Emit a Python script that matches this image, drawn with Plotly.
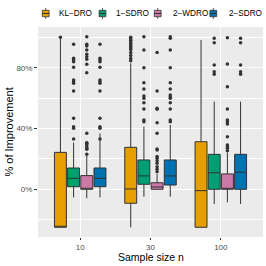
import plotly.graph_objects as go

groups = ["10", "30", "100"]
methods = ["KL−DRO", "1−SDRO", "2−WDRO", "2−SDRO"]
colors = ["#E69F00", "#009E73", "#CC79A7", "#0072B2"]

# box statistics per method, one value per sample size group (in %)
q1 = {
    "KL−DRO": [-25.0, -9.2, -25.0],
    "1−SDRO": [1.7, 3.3, 0.0],
    "2−WDRO": [0.0, 0.0, 0.0],
    "2−SDRO": [1.7, 2.8, 0.0],
}
median = {
    "KL−DRO": [-24.8, 0.2, -0.9],
    "1−SDRO": [7.2, 8.8, 10.9],
    "2−WDRO": [0.0, 1.5, 0.3],
    "2−SDRO": [7.2, 8.8, 11.2],
}
q3 = {
    "KL−DRO": [24.3, 27.6, 31.3],
    "1−SDRO": [14.0, 19.3, 23.0],
    "2−WDRO": [9.0, 4.3, 10.1],
    "2−SDRO": [14.0, 19.3, 23.0],
}
lower = {
    "KL−DRO": [-25.0, -25.0, -25.0],
    "1−SDRO": [-5.3, -4.9, -9.7],
    "2−WDRO": [-5.9, 0.0, -8.6],
    "2−SDRO": [-5.3, -4.9, -9.7],
}
upper = {
    "KL−DRO": [99.5, 82.9, 98.2],
    "1−SDRO": [30.7, 41.2, 57.7],
    "2−WDRO": [22.0, 10.0, 24.0],
    "2−SDRO": [36.8, 42.3, 57.7],
}
outliers = {
    "KL−DRO": [
        [100.0],
        [100.0, 99.0, 98.0, 97.0, 96.0, 95.0, 94.0, 93.0, 92.0, 90.0, 88.0, 86.0, 84.6],
        [],
    ],
    "1−SDRO": [
        [95.4, 86.2, 85.1, 84.0, 80.3, 71.9, 70.8, 69.7, 64.7, 46.7, 41.2, 40.1, 33.1],
        [100.4, 91.7, 80.0, 70.1, 66.0, 61.4, 59.9, 57.0, 52.8, 45.6, 44.5],
        [99.4, 96.5, 81.8, 77.4, 75.7],
    ],
    "2−WDRO": [
        [100.4, 95.4, 94.3, 91.7, 88.8, 87.3, 85.5, 82.3, 76.7, 36.8, 30.3, 28.0, 27.0, 30.7, 29.3, 26.3, 23.0],
        [90.1, 64.7, 53.3, 52.6, 43.8, 36.8, 26.5, 25.9, 21.5, 20.4, 18.8, 17.1, 14.9, 13.2, 11.6],
        [99.8, 82.5, 67.5, 52.8, 45.6, 44.5, 43.0, 34.6, 29.1, 28.0, 27.0, 25.4],
    ],
    "2−SDRO": [
        [95.4, 86.2, 85.1, 84.0, 80.3, 71.9, 70.8, 69.7, 64.7, 46.7, 41.2, 40.1, 33.1],
        [100.4, 99.4, 91.7, 80.0, 70.1, 66.0, 62.0, 60.9, 59.9, 57.0, 52.8, 45.6, 44.5],
        [99.4, 96.5, 81.8, 77.4, 75.7],
    ],
}

y_ticks = [0, 40, 80]
y_tick_labels = ["0%", "40%", "80%"]

# layout geometry (pixels)
W, H = 266, 266
ML, MR, MT, MB = 38, 3, 27, 29
PW, PH = W - ML - MR, H - MT - MB


def px(xp):
    return (xp - ML) / PW


def py(yp):
    return (H - MB - yp) / PH


dodge = 0.75 / len(methods)
fig = go.Figure()
for i, m in enumerate(methods):
    off = dodge * (i - (len(methods) - 1) / 2)
    xs = [g + 1 + off for g in range(len(groups))]
    fig.add_trace(go.Box(
        name=m, x=xs, q1=q1[m], median=median[m], q3=q3[m],
        lowerfence=lower[m], upperfence=upper[m],
        width=0.17, fillcolor=colors[i], line=dict(color="#333333", width=1),
        boxpoints=False, whiskerwidth=0, showlegend=False,
    ))
    ox, oy = [], []
    for g in range(len(groups)):
        for v in outliers[m][g]:
            ox.append(xs[g]); oy.append(v)
    fig.add_trace(go.Scatter(
        x=ox, y=oy, mode="markers", showlegend=False, hoverinfo="skip",
        marker=dict(color="#333333", size=3.5, line=dict(width=0)),
    ))

# legend drawn at the top (keys + labels)
key_cx = [45.7, 102.5, 157.7, 213.3]
text_x = [57, 114, 170.5, 226.5]
for i, m in enumerate(methods):
    c = key_cx[i]
    fig.add_shape(type="line", xref="paper", yref="paper",
                  x0=px(c), x1=px(c), y0=py(8), y1=py(19),
                  line=dict(color="#333333", width=0.8))
    fig.add_shape(type="rect", xref="paper", yref="paper",
                  x0=px(c - 3.4), x1=px(c + 3.4), y0=py(10.3), y1=py(16.7),
                  fillcolor=colors[i], line=dict(color="#333333", width=0.8))
    fig.add_shape(type="line", xref="paper", yref="paper",
                  x0=px(c - 3.4), x1=px(c + 3.4), y0=py(13.5), y1=py(13.5),
                  line=dict(color="#333333", width=1))
    fig.add_annotation(text=m, xref="paper", yref="paper", x=px(text_x[i]), y=py(13.7),
                       xanchor="left", yanchor="middle", showarrow=False,
                       font=dict(size=8.2, color="black"))

fig.add_annotation(text="Sample size n", xref="paper", yref="paper",
                   x=0.5, y=py(256.5), xanchor="center", yanchor="middle",
                   showarrow=False, font=dict(size=10.5, color="black"))
fig.add_annotation(text="% of Improvement", xref="paper", yref="paper",
                   x=px(8.5), y=0.5, xanchor="center", yanchor="middle", textangle=-90,
                   showarrow=False, font=dict(size=11, color="black"))

fig.update_layout(
    width=W, height=H,
    margin=dict(l=ML, r=MR, t=MT, b=MB, autoexpand=False),
    paper_bgcolor="white", plot_bgcolor="#EBEBEB",
    font=dict(family="Liberation Sans, Arial, sans-serif", color="black"),
    showlegend=False,
    boxmode="overlay",
)
fig.update_xaxes(
    range=[0.4, 3.6], tickvals=[1, 2, 3], ticktext=groups,
    showgrid=True, gridcolor="white", gridwidth=1, zeroline=False,
    ticks="outside", ticklen=2, tickcolor="#333333",
    tickfont=dict(size=8, color="#4D4D4D"),
    showline=False,
)
fig.update_yaxes(
    range=[-31.4, 106.8], tickvals=y_ticks, ticktext=y_tick_labels,
    showgrid=True, gridcolor="white", gridwidth=1, zeroline=False,
    ticks="outside", ticklen=3, tickcolor="#333333",
    tickfont=dict(size=8, color="#4D4D4D"),
    minor=dict(dtick=20, tick0=0, showgrid=True, gridcolor="white", gridwidth=0.5, ticks=""),
    showline=False,
)
fig.write_html(
    "out.html",
    config={"displayModeBar": False},
    post_script="document.body.style.margin='0';document.body.style.overflow='hidden';",
)
